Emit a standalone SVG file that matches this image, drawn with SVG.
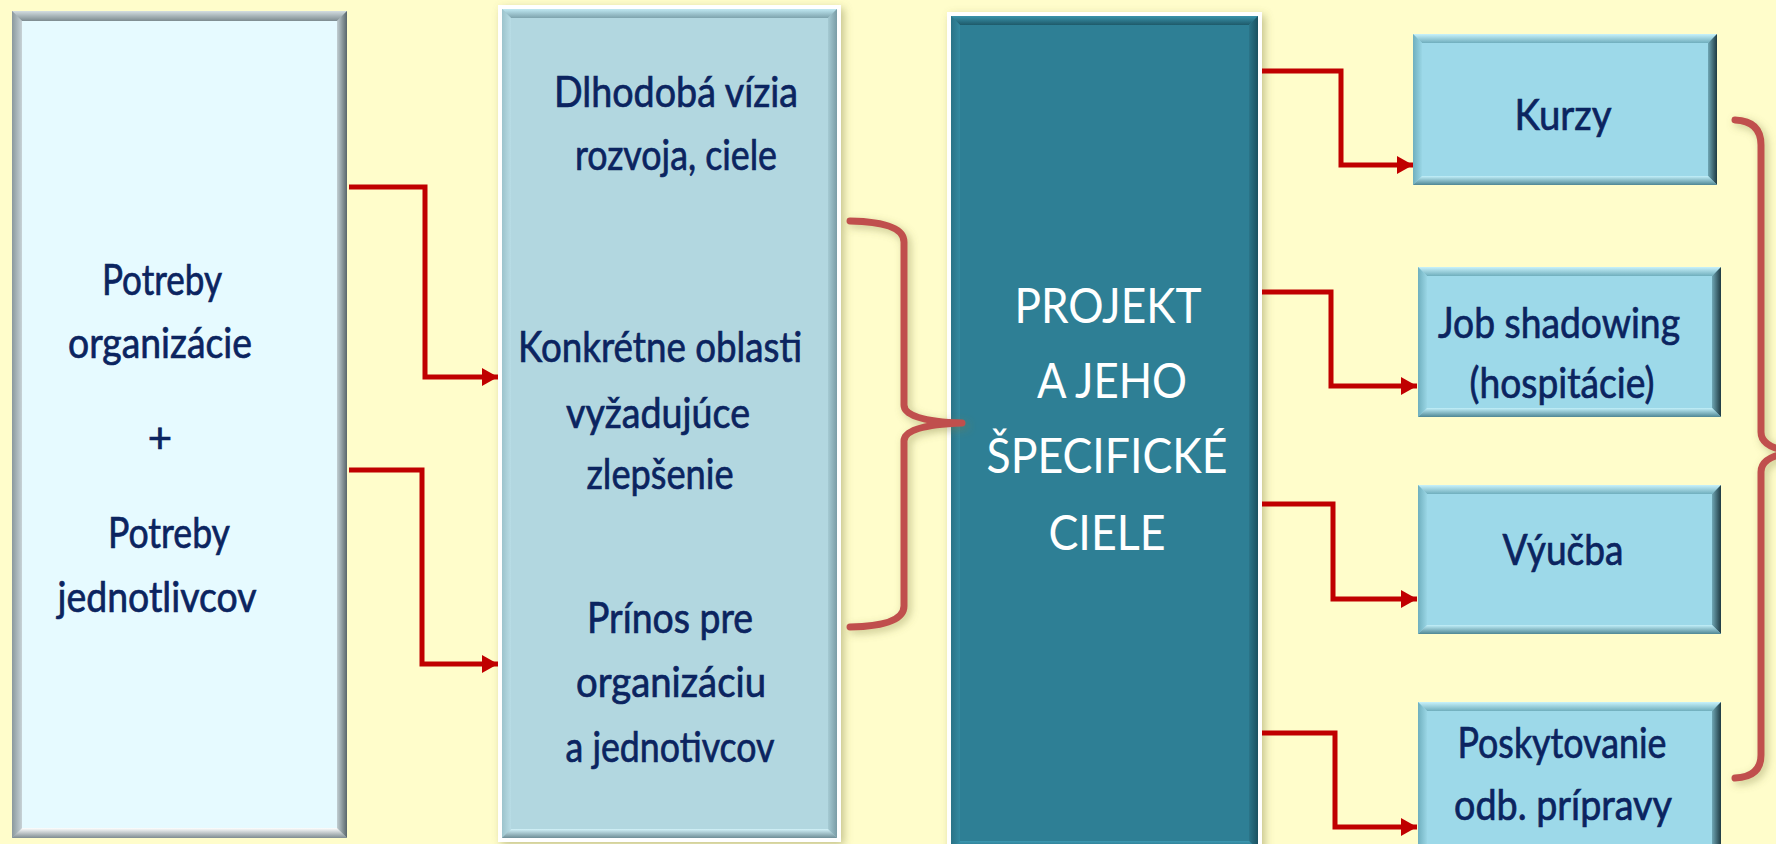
<svg xmlns="http://www.w3.org/2000/svg" width="1776" height="844" viewBox="0 0 1776 844">
<style>
.t{font-family:Lato,"Open Sans","Liberation Sans",sans-serif;font-size:42px;fill:#0B2460;stroke:#0B2460;stroke-width:0.7px;text-anchor:middle;}
.w{font-family:Lato,"Open Sans","Liberation Sans",sans-serif;font-size:48px;fill:#FFFFFF;text-anchor:middle;}
.conn{fill:none;stroke:#C00000;stroke-width:5;stroke-linejoin:miter;marker-end:url(#arr);}
.brace{fill:none;stroke:#C0504D;stroke-width:7;stroke-linecap:round;stroke-linejoin:round;filter:url(#sh);}
</style>
<defs>
<filter id="sh" x="-20%" y="-20%" width="140%" height="140%">
<feDropShadow dx="3" dy="3" stdDeviation="4" flood-color="#7A7A40" flood-opacity="0.45"/>
</filter>
<marker id="arr" markerUnits="userSpaceOnUse" markerWidth="16" markerHeight="20" viewBox="0 0 16 20" refX="16" refY="10" orient="auto">
<path d="M0,1 L16,10 L0,19 Z" fill="#C00000"/>
</marker>
<linearGradient id="gTop" x1="0" y1="0" x2="0" y2="1"><stop offset="0" stop-color="#D3DDE0"/><stop offset="1" stop-color="#7D8B90"/></linearGradient>
<linearGradient id="gLeft" x1="0" y1="0" x2="1" y2="0"><stop offset="0" stop-color="#8A989D"/><stop offset="1" stop-color="#C7D2D6"/></linearGradient>
<linearGradient id="gRight" x1="0" y1="0" x2="1" y2="0"><stop offset="0" stop-color="#C2CED2"/><stop offset="1" stop-color="#59666B"/></linearGradient>
<linearGradient id="gBot" x1="0" y1="0" x2="0" y2="1"><stop offset="0" stop-color="#FFFFFF"/><stop offset="1" stop-color="#7F8C91"/></linearGradient>
<linearGradient id="mTop" x1="0" y1="0" x2="0" y2="1"><stop offset="0" stop-color="#BFE8F2"/><stop offset="1" stop-color="#7EA3AD"/></linearGradient>
<linearGradient id="mLeft" x1="0" y1="0" x2="1" y2="0"><stop offset="0" stop-color="#9CC3CC"/><stop offset="1" stop-color="#B9DDE6"/></linearGradient>
<linearGradient id="mRight" x1="0" y1="0" x2="1" y2="0"><stop offset="0" stop-color="#A5CAD3"/><stop offset="1" stop-color="#7A9CA6"/></linearGradient>
<linearGradient id="mBot" x1="0" y1="0" x2="0" y2="1"><stop offset="0" stop-color="#D2F2F9"/><stop offset="1" stop-color="#6F8E97"/></linearGradient>
<linearGradient id="tTop" x1="0" y1="0" x2="0" y2="1"><stop offset="0" stop-color="#3A93AB"/><stop offset="1" stop-color="#1E5A6A"/></linearGradient>
<linearGradient id="tLeft" x1="0" y1="0" x2="1" y2="0"><stop offset="0" stop-color="#2A7387"/><stop offset="1" stop-color="#3389A0"/></linearGradient>
<linearGradient id="tRight" x1="0" y1="0" x2="1" y2="0"><stop offset="0" stop-color="#2B7589"/><stop offset="1" stop-color="#1B5160"/></linearGradient>
<linearGradient id="tBot" x1="0" y1="0" x2="0" y2="1"><stop offset="0" stop-color="#3C98B2"/><stop offset="1" stop-color="#1F5D6D"/></linearGradient>
<linearGradient id="cTop" x1="0" y1="0" x2="0" y2="1"><stop offset="0" stop-color="#C8F2FB"/><stop offset="1" stop-color="#6FAEBD"/></linearGradient>
<linearGradient id="cLeft" x1="0" y1="0" x2="1" y2="0"><stop offset="0" stop-color="#6FAFBE"/><stop offset="1" stop-color="#9AD6E5"/></linearGradient>
<linearGradient id="cRight" x1="0" y1="0" x2="1" y2="0"><stop offset="0" stop-color="#6FA7B5"/><stop offset="1" stop-color="#1F3A42"/></linearGradient>
<linearGradient id="cBot" x1="0" y1="0" x2="0" y2="1"><stop offset="0" stop-color="#C2F0FA"/><stop offset="1" stop-color="#4F8794"/></linearGradient>
</defs>

<rect x="0" y="0" width="1776" height="844" fill="#FFFDCB"/>

<g id="node-potreby">
<rect x="12" y="11" width="335" height="827" fill="#A4B2B7"/>
<polygon points="12,11 347,11 337,21 22,21" fill="url(#gTop)"/>
<polygon points="12,11 22,21 22,828 12,838" fill="url(#gLeft)"/>
<polygon points="347,11 347,838 337,828 337,21" fill="url(#gRight)"/>
<polygon points="12,838 22,828 337,828 347,838" fill="url(#gBot)"/>
<rect x="22" y="21" width="315" height="807" fill="#E6FAFF"/>
<text class="t" x="162" y="295" textLength="120" lengthAdjust="spacingAndGlyphs">Potreby</text>
<text class="t" x="160" y="358" textLength="184" lengthAdjust="spacingAndGlyphs">organizácie</text>
<text class="t" x="160" y="453">+</text>
<text class="t" x="169" y="548" textLength="122" lengthAdjust="spacingAndGlyphs">Potreby</text>
<text class="t" x="157" y="612" textLength="199" lengthAdjust="spacingAndGlyphs">jednotlivcov</text>
</g>

<g id="node-oblasti">
<rect x="498" y="5" width="343" height="837" fill="#FFFFFF" filter="url(#sh)"/>
<rect x="502" y="9" width="335" height="829" fill="#9EC4CD"/>
<polygon points="502,9 837,9 828,18 511,18" fill="url(#mTop)"/>
<polygon points="502,9 511,18 511,829 502,838" fill="url(#mLeft)"/>
<polygon points="837,9 837,838 828,829 828,18" fill="url(#mRight)"/>
<polygon points="502,838 511,829 828,829 837,838" fill="url(#mBot)"/>
<rect x="511" y="18" width="317" height="811" fill="#B2D7E0"/>
<text class="t" x="676" y="107" textLength="244" lengthAdjust="spacingAndGlyphs">Dlhodobá vízia</text>
<text class="t" x="676" y="170" textLength="202" lengthAdjust="spacingAndGlyphs">rozvoja, ciele</text>
<text class="t" x="660" y="362" textLength="284" lengthAdjust="spacingAndGlyphs">Konkrétne oblasti</text>
<text class="t" x="658" y="428" textLength="184" lengthAdjust="spacingAndGlyphs">vyžadujúce</text>
<text class="t" x="660" y="489" textLength="147" lengthAdjust="spacingAndGlyphs">zlepšenie</text>
<text class="t" x="670" y="633" textLength="166" lengthAdjust="spacingAndGlyphs">Prínos pre</text>
<text class="t" x="671" y="697" textLength="190" lengthAdjust="spacingAndGlyphs">organizáciu</text>
<text class="t" x="670" y="762" textLength="209" lengthAdjust="spacingAndGlyphs">a jednotivcov</text>
</g>

<g id="node-projekt">
<rect x="947" y="12" width="315" height="842" fill="#FFFFFF" filter="url(#sh)"/>
<rect x="951" y="16" width="307" height="834" fill="#2E7F95"/>
<polygon points="951,16 1258,16 1249,25 960,25" fill="url(#tTop)"/>
<polygon points="951,16 960,25 960,841 951,850" fill="url(#tLeft)"/>
<polygon points="1258,16 1258,850 1249,841 1249,25" fill="url(#tRight)"/>
<polygon points="951,850 960,841 1249,841 1258,850" fill="url(#tBot)"/>
<rect x="960" y="25" width="289" height="816" fill="#2E7F95"/>
<text class="w" x="1108" y="323" textLength="187" lengthAdjust="spacingAndGlyphs">PROJEKT</text>
<text class="w" x="1112" y="398" textLength="150" lengthAdjust="spacingAndGlyphs">A JEHO</text>
<text class="w" x="1107" y="473" textLength="241" lengthAdjust="spacingAndGlyphs">ŠPECIFICKÉ</text>
<text class="w" x="1107" y="550" textLength="117" lengthAdjust="spacingAndGlyphs">CIELE</text>
</g>

<g id="node-kurzy">
<rect x="1413" y="34" width="304" height="151" fill="#9DD9E9"/>
<polygon points="1413,34 1717,34 1708,43 1422,43" fill="url(#cTop)"/>
<polygon points="1413,34 1422,43 1422,176 1413,185" fill="url(#cLeft)"/>
<polygon points="1717,34 1717,185 1708,176 1708,43" fill="url(#cRight)"/>
<polygon points="1413,185 1422,176 1708,176 1717,185" fill="url(#cBot)"/>
<rect x="1422" y="43" width="286" height="133" fill="#9DD9E9"/>
<text class="t" x="1563" y="130" textLength="97" lengthAdjust="spacingAndGlyphs">Kurzy</text>
</g>

<g id="node-job">
<rect x="1418" y="267" width="303" height="150" fill="#9DD9E9"/>
<polygon points="1418,267 1721,267 1712,276 1427,276" fill="url(#cTop)"/>
<polygon points="1418,267 1427,276 1427,408 1418,417" fill="url(#cLeft)"/>
<polygon points="1721,267 1721,417 1712,408 1712,276" fill="url(#cRight)"/>
<polygon points="1418,417 1427,408 1712,408 1721,417" fill="url(#cBot)"/>
<rect x="1427" y="276" width="285" height="132" fill="#9DD9E9"/>
<text class="t" x="1559" y="338" textLength="242" lengthAdjust="spacingAndGlyphs">Job shadowing</text>
<text class="t" x="1562" y="398" textLength="185" lengthAdjust="spacingAndGlyphs">(hospitácie)</text>
</g>

<g id="node-vyucba">
<rect x="1418" y="485" width="303" height="149" fill="#9DD9E9"/>
<polygon points="1418,485 1721,485 1712,494 1427,494" fill="url(#cTop)"/>
<polygon points="1418,485 1427,494 1427,625 1418,634" fill="url(#cLeft)"/>
<polygon points="1721,485 1721,634 1712,625 1712,494" fill="url(#cRight)"/>
<polygon points="1418,634 1427,625 1712,625 1721,634" fill="url(#cBot)"/>
<rect x="1427" y="494" width="285" height="131" fill="#9DD9E9"/>
<text class="t" x="1563" y="565" textLength="121" lengthAdjust="spacingAndGlyphs">Výučba</text>
</g>

<g id="node-poskytovanie">
<rect x="1418" y="702" width="303" height="158" fill="#9DD9E9"/>
<polygon points="1418,702 1721,702 1712,711 1427,711" fill="url(#cTop)"/>
<polygon points="1418,702 1427,711 1427,851 1418,860" fill="url(#cLeft)"/>
<polygon points="1721,702 1721,860 1712,851 1712,711" fill="url(#cRight)"/>
<rect x="1427" y="711" width="285" height="140" fill="#9DD9E9"/>
<text class="t" x="1562" y="758" textLength="209" lengthAdjust="spacingAndGlyphs">Poskytovanie</text>
<text class="t" x="1563" y="820" textLength="218" lengthAdjust="spacingAndGlyphs">odb. prípravy</text>
</g>

<g id="braces">
<path class="brace" d="M850,221 Q904,222 904,242 L904,405 Q904,421 962,423 Q904,425 904,441 L904,606 Q904,626 850,627"/>
<path class="brace" d="M1735,120 Q1761,121 1761,145 L1761,432 Q1761,450 1800,452 Q1761,454 1761,472 L1761,755 Q1761,777 1735,778"/>
</g>

<g id="connectors">
<polyline class="conn" points="349,187 425,187 425,377 498,377"/>
<polyline class="conn" points="349,470 422,470 422,664 498,664"/>
<polyline class="conn" points="1262,71 1341,71 1341,165 1413,165"/>
<polyline class="conn" points="1262,292 1331,292 1331,386 1417,386"/>
<polyline class="conn" points="1262,504 1333,504 1333,599 1417,599"/>
<polyline class="conn" points="1262,733 1335,733 1335,827 1417,827"/>
</g>
</svg>
